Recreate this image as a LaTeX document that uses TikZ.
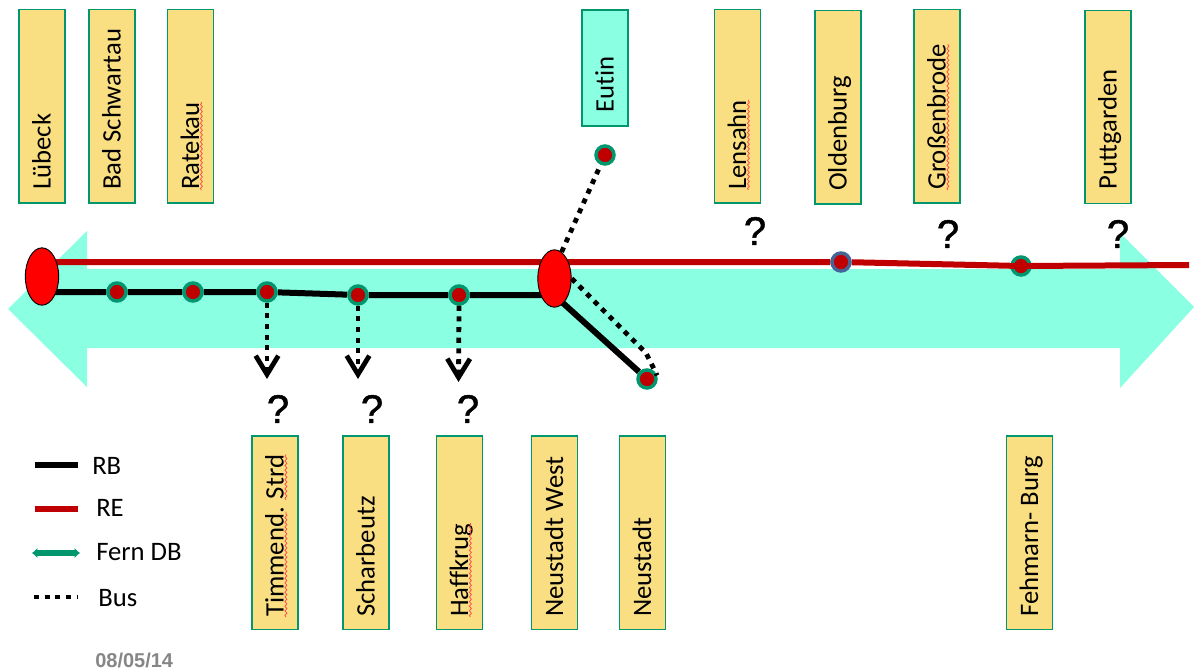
\documentclass[tikz,border=0pt]{standalone}
\usepackage{fontspec}
\setmainfont[Ligatures=NoCommon]{Carlito}
\newfontfamily\datefont{Liberation Sans}
\newfontfamily\queryfont[FakeBold=1.2]{Liberation Sans}
\usetikzlibrary{arrows.meta,backgrounds,decorations.pathmorphing,shapes.geometric}
\definecolor{railred}{RGB}{192,0,0}
\definecolor{ferngreen}{RGB}{0,150,110}
\definecolor{ringblue}{RGB}{70,100,150}
\definecolor{bandcyan}{RGB}{138,255,226}
\definecolor{boxyellow}{RGB}{250,222,130}
\tikzset{
	stationbox/.style={draw=ferngreen, fill=boxyellow, line width=1pt, minimum width=34.5pt, minimum height=145pt, inner sep=0pt},
	stationname/.style={rotate=90, anchor=base west, font=\fontsize{20}{22}\selectfont, inner sep=0pt},
	hub/.style={ellipse, draw=black, fill=red, line width=0.7pt, minimum width=25pt, minimum height=43pt, inner sep=0pt},
	stop/.style={circle, draw=ferngreen, fill=railred, line width=2.6pt, minimum size=13.5pt, inner sep=0pt},
	rbline/.style={line width=4.5pt, draw=black},
	reline/.style={line width=4.5pt, draw=railred},
	busline/.style={line width=3.6pt, draw=black, dash pattern=on 3.8pt off 4.2pt},
	busarrow/.style={busline, -{Straight Barb[length=14pt,width=17pt,line width=3.6pt]}},
	squiggle/.style={draw=red!70!white, line width=0.6pt, decorate, decoration={snake, amplitude=0.7pt, segment length=3.5pt}},
	query/.style={font=\fontsize{30}{30}\selectfont\queryfont, inner sep=0pt},
	legendtext/.style={anchor=west, font=\fontsize{20}{22}\selectfont, inner sep=0pt}
}
\begin{document}
\begin{tikzpicture}[x=0.75pt,y=-0.75pt]
	\useasboundingbox (0,0) rectangle (1194,670);

	% upper row
	\node[stationbox] (luebeckbox) at (42,106.5) {};
	\node[stationname] (luebeck) at (50.5,190) {Lübeck};
	\node[stationbox] (schwartaubox) at (112,106.5) {};
	\node[stationname] (schwartau) at (120.5,190) {Bad Schwartau};
	\node[stationbox] (ratekaubox) at (190.5,106.5) {};
	\node[stationname] (ratekau) at (199,190) {Ratekau};
	\node[stationbox, fill=bandcyan, minimum height=87pt] (eutinbox) at (605,68) {};
	\node[stationname] (eutin) at (613.5,113) {Eutin};
	\node[stationbox] (lensahnbox) at (737.5,106.5) {};
	\node[stationname] (lensahn) at (746,190) {Lensahn};
	\node[stationbox] (oldenburgbox) at (838,107.5) {};
	\node[stationname] (oldenburg) at (846.5,191) {Oldenburg};
	\node[stationbox] (grossenbrodebox) at (937,106.5) {};
	\node[stationname] (grossenbrode) at (945.5,190) {Großenbrode};
	\node[stationbox] (puttgardenbox) at (1108,107) {};
	\node[stationname] (puttgarden) at (1116.5,190) {Puttgarden};

	% lower row
	\node[stationbox] (timmendbox) at (275,532.5) {};
	\node[stationname] (timmend) at (283.5,617) {Timmend. Strd};
	\node[stationbox] (scharbeutzbox) at (366,532.5) {};
	\node[stationname] (scharbeutz) at (374.5,617) {Scharbeutz};
	\node[stationbox] (haffkrugbox) at (459.5,532.5) {};
	\node[stationname] (haffkrug) at (468,617) {Haffkrug};
	\node[stationbox] (westbox) at (554.5,532.5) {};
	\node[stationname] (west) at (563,617) {Neustadt West};
	\node[stationbox] (neustadtbox) at (642.5,532.5) {};
	\node[stationname] (neustadt) at (651,617) {Neustadt};
	\node[stationbox] (burgbox) at (1029.5,532.5) {};
	\node[stationname] (burg) at (1038,617) {Fehmarn- Burg};

	% spell check marks
	\draw[squiggle] ([xshift=1.8pt]ratekau.base west) -- ([xshift=1.8pt]ratekau.base east);
	\draw[squiggle] ([xshift=1.8pt]lensahn.base west) -- ([xshift=1.8pt]lensahn.base east);
	\draw[squiggle] ([xshift=1.8pt]grossenbrode.base west) -- ([xshift=1.8pt]grossenbrode.base east);
	\draw[squiggle] ([xshift=1.8pt]haffkrug.base west) -- ([xshift=1.8pt]haffkrug.base east);
	\draw[squiggle] ([xshift=1.8pt]timmend.base west) -- ([xshift=1.8pt,yshift=79pt]timmend.base west);
	\draw[squiggle] ([xshift=1.8pt,yshift=88pt]timmend.base west) -- ([xshift=1.8pt]timmend.base east);

	% stations on the lines
	\node[stop] (s1) at (117,292) {};
	\node[stop] (s2) at (193,292) {};
	\node[stop] (s3) at (267,292) {};
	\node[stop] (s4) at (358,295) {};
	\node[stop] (s5) at (459,295) {};
	\node[stop] (s6) at (647,379) {};
	\node[stop] (s7) at (605,155) {};
	\node[stop, draw=ringblue] (s8) at (841,262) {};
	\node[stop] (s9) at (1021,266) {};
	\node[hub] (hubluebeck) at (42,276.5) {};
	\node[hub] (hubwest) at (554.5,278.5) {};
	\coordinate (redend) at (1189,265);
	\coordinate (luebeckred) at (42,262);
	\coordinate (luebeckblack) at (42,292);
	\coordinate (westblack) at (554,295);

	% wide arrow and the lines go behind the stations
	\begin{scope}[on background layer]
		\fill[bandcyan] (8,309) -- (87,231) -- (87,269) -- (1120,269) -- (1120,233) -- (1194,307)
		-- (1120,388) -- (1120,348) -- (87,348) -- (87,387) -- cycle;
		\draw[reline] (luebeckred) -- (s8) -- (s9) -- (redend);
		\draw[rbline] (luebeckblack) -- (s1) -- (s2) -- (s3) -- (s4) -- (s5) -- (westblack) -- (s6);
	\end{scope}
	\draw[reline] (s9.west) -- (s9.east);

	% bus
	\coordinate (bend) at (646,353);
	\coordinate (busa) at (267,379);
	\coordinate (busb) at (358,379);
	\coordinate (busc) at (458.5,382);
	\draw[busline] (hubwest.75) -- (s7);
	\draw[busline] (hubwest.east) -- (bend) -- (s6.20);
	\draw[busarrow] (s3.south) -- (busa);
	\draw[busarrow] (s4.south) -- (busb);
	\draw[busarrow] (s5.south) -- (busc);

	% question marks
	\node[query] (q1) at (278,409) {?};
	\node[query] (q2) at (372,409) {?};
	\node[query] (q3) at (468,409) {?};
	\node[query] (q4) at (755,231) {?};
	\node[query] (q5) at (948,234) {?};
	\node[query] (q6) at (1118,234) {?};

	% legend
	\coordinate (rba) at (35,465);
	\coordinate (rbb) at (78,465);
	\coordinate (rea) at (35,509);
	\coordinate (reb) at (78,509);
	\coordinate (ferna) at (32,553);
	\coordinate (fernb) at (80,553);
	\coordinate (busla) at (34,597);
	\coordinate (buslb) at (78,597);
	\draw[rbline] (rba) -- (rbb);
	\draw[reline] (rea) -- (reb);
	\draw[line width=4.5pt, ferngreen, {Latex[length=4pt,width=8pt]}-{Latex[length=4pt,width=8pt]}] (ferna) -- (fernb);
	\draw[busline] (busla) -- (buslb);
	\node[legendtext] (rbtext) at (92,466) {RB};
	\node[legendtext] (retext) at (96,508) {RE};
	\node[legendtext] (ferntext) at (96,552) {Fern DB};
	\node[legendtext] (bustext) at (98,598) {Bus};

	\node[anchor=west, inner sep=0pt, text=gray!95!white, font=\fontsize{15}{16}\selectfont\datefont\bfseries] (date) at (95,660) {08/05/14};
\end{tikzpicture}
\end{document}
